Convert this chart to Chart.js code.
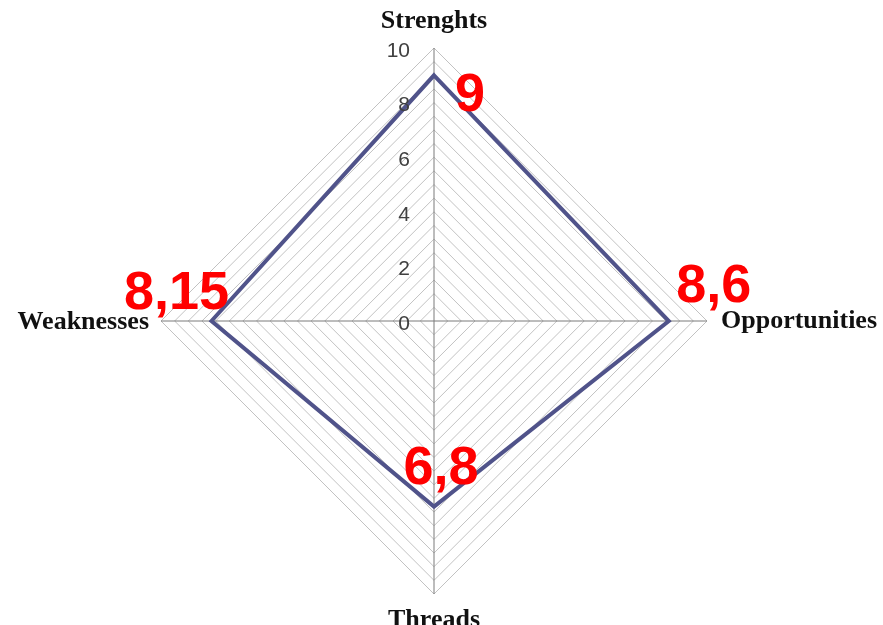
<!DOCTYPE html>
<html><head><meta charset="utf-8">
<script src="https://cdn.jsdelivr.net/npm/chart.js@4"></script>
<style>html,body{margin:0;padding:0;background:#fff}#wrap{width:883px;height:625px;position:relative}</style>
</head><body><div id="wrap"><canvas id="c"></canvas></div>
<script>
const categories = ['Strenghts', 'Opportunities', 'Threads', 'Weaknesses'];
const values = [9, 8.6, 6.8, 8.15];
const valueLabels = ['9', '8,6', '6,8', '8,15'];
const tickLabels = [0, 2, 4, 6, 8, 10];

// label placement (offsets from the data point / axis end)
const valueLabelOffsets = [[36, 21], [45, -34], [7, -38], [-35, -27]];

const overlay = {
  id: 'overlay',
  afterDraw(chart) {
    const s = chart.scales.r;
    const ctx = chart.ctx;
    const cx = s.xCenter, cy = s.yCenter, R = s.drawingArea;
    ctx.save();
    // tick labels
    ctx.font = '21px "Liberation Sans", Arial, sans-serif';
    ctx.fillStyle = '#404040';
    ctx.textAlign = 'right';
    ctx.textBaseline = 'middle';
    tickLabels.forEach(t => {
      const d = s.getDistanceFromCenterForValue(t);
      ctx.fillText(String(t), cx - 24, cy - d + 3);
    });
    // category labels
    ctx.font = 'bold 26px "Liberation Serif", "Times New Roman", serif';
    ctx.fillStyle = '#111';
    ctx.textBaseline = 'middle';
    const pl = [
      {a: 'center', x: cx, y: cy - R - 27},
      {a: 'left', x: cx + R + 14, y: cy + 0},
      {a: 'center', x: cx, y: cy + R + 26},
      {a: 'right', x: cx - R - 12, y: cy + 1}
    ];
    categories.forEach((c, i) => {
      ctx.textAlign = pl[i].a;
      ctx.fillText(c, pl[i].x, pl[i].y);
    });
    // value labels
    ctx.font = 'bold 54px "Liberation Sans", Arial, sans-serif';
    ctx.fillStyle = '#ff0000';
    ctx.textAlign = 'center';
    ctx.textBaseline = 'middle';
    const meta = chart.getDatasetMeta(0);
    meta.data.forEach((pt, i) => {
      const o = valueLabelOffsets[i];
      ctx.fillText(valueLabels[i], pt.x + o[0], pt.y + o[1]);
    });
    ctx.restore();
  }
};

new Chart(document.getElementById('c'), {
  type: 'radar',
  data: {
    labels: categories,
    datasets: [{
      data: values,
      borderColor: '#50538a',
      borderWidth: 4,
      backgroundColor: 'rgba(0,0,0,0)',
      fill: false,
      pointRadius: 0,
      tension: 0
    }]
  },
  options: {
    responsive: true,
    maintainAspectRatio: false,
    animation: false,
    layout: { padding: { left: 161, right: 176, top: 48, bottom: 31 } },
    plugins: { legend: { display: false }, tooltip: { enabled: false } },
    scales: {
      r: {
        min: 0, max: 10,
        ticks: { stepSize: 0.5, display: false },
        grid: { color: '#c2c2c2', lineWidth: 1 },
        angleLines: { color: '#7a7a7a', lineWidth: 1 },
        pointLabels: { display: false }
      }
    }
  },
  plugins: [overlay]
});
</script></body></html>
